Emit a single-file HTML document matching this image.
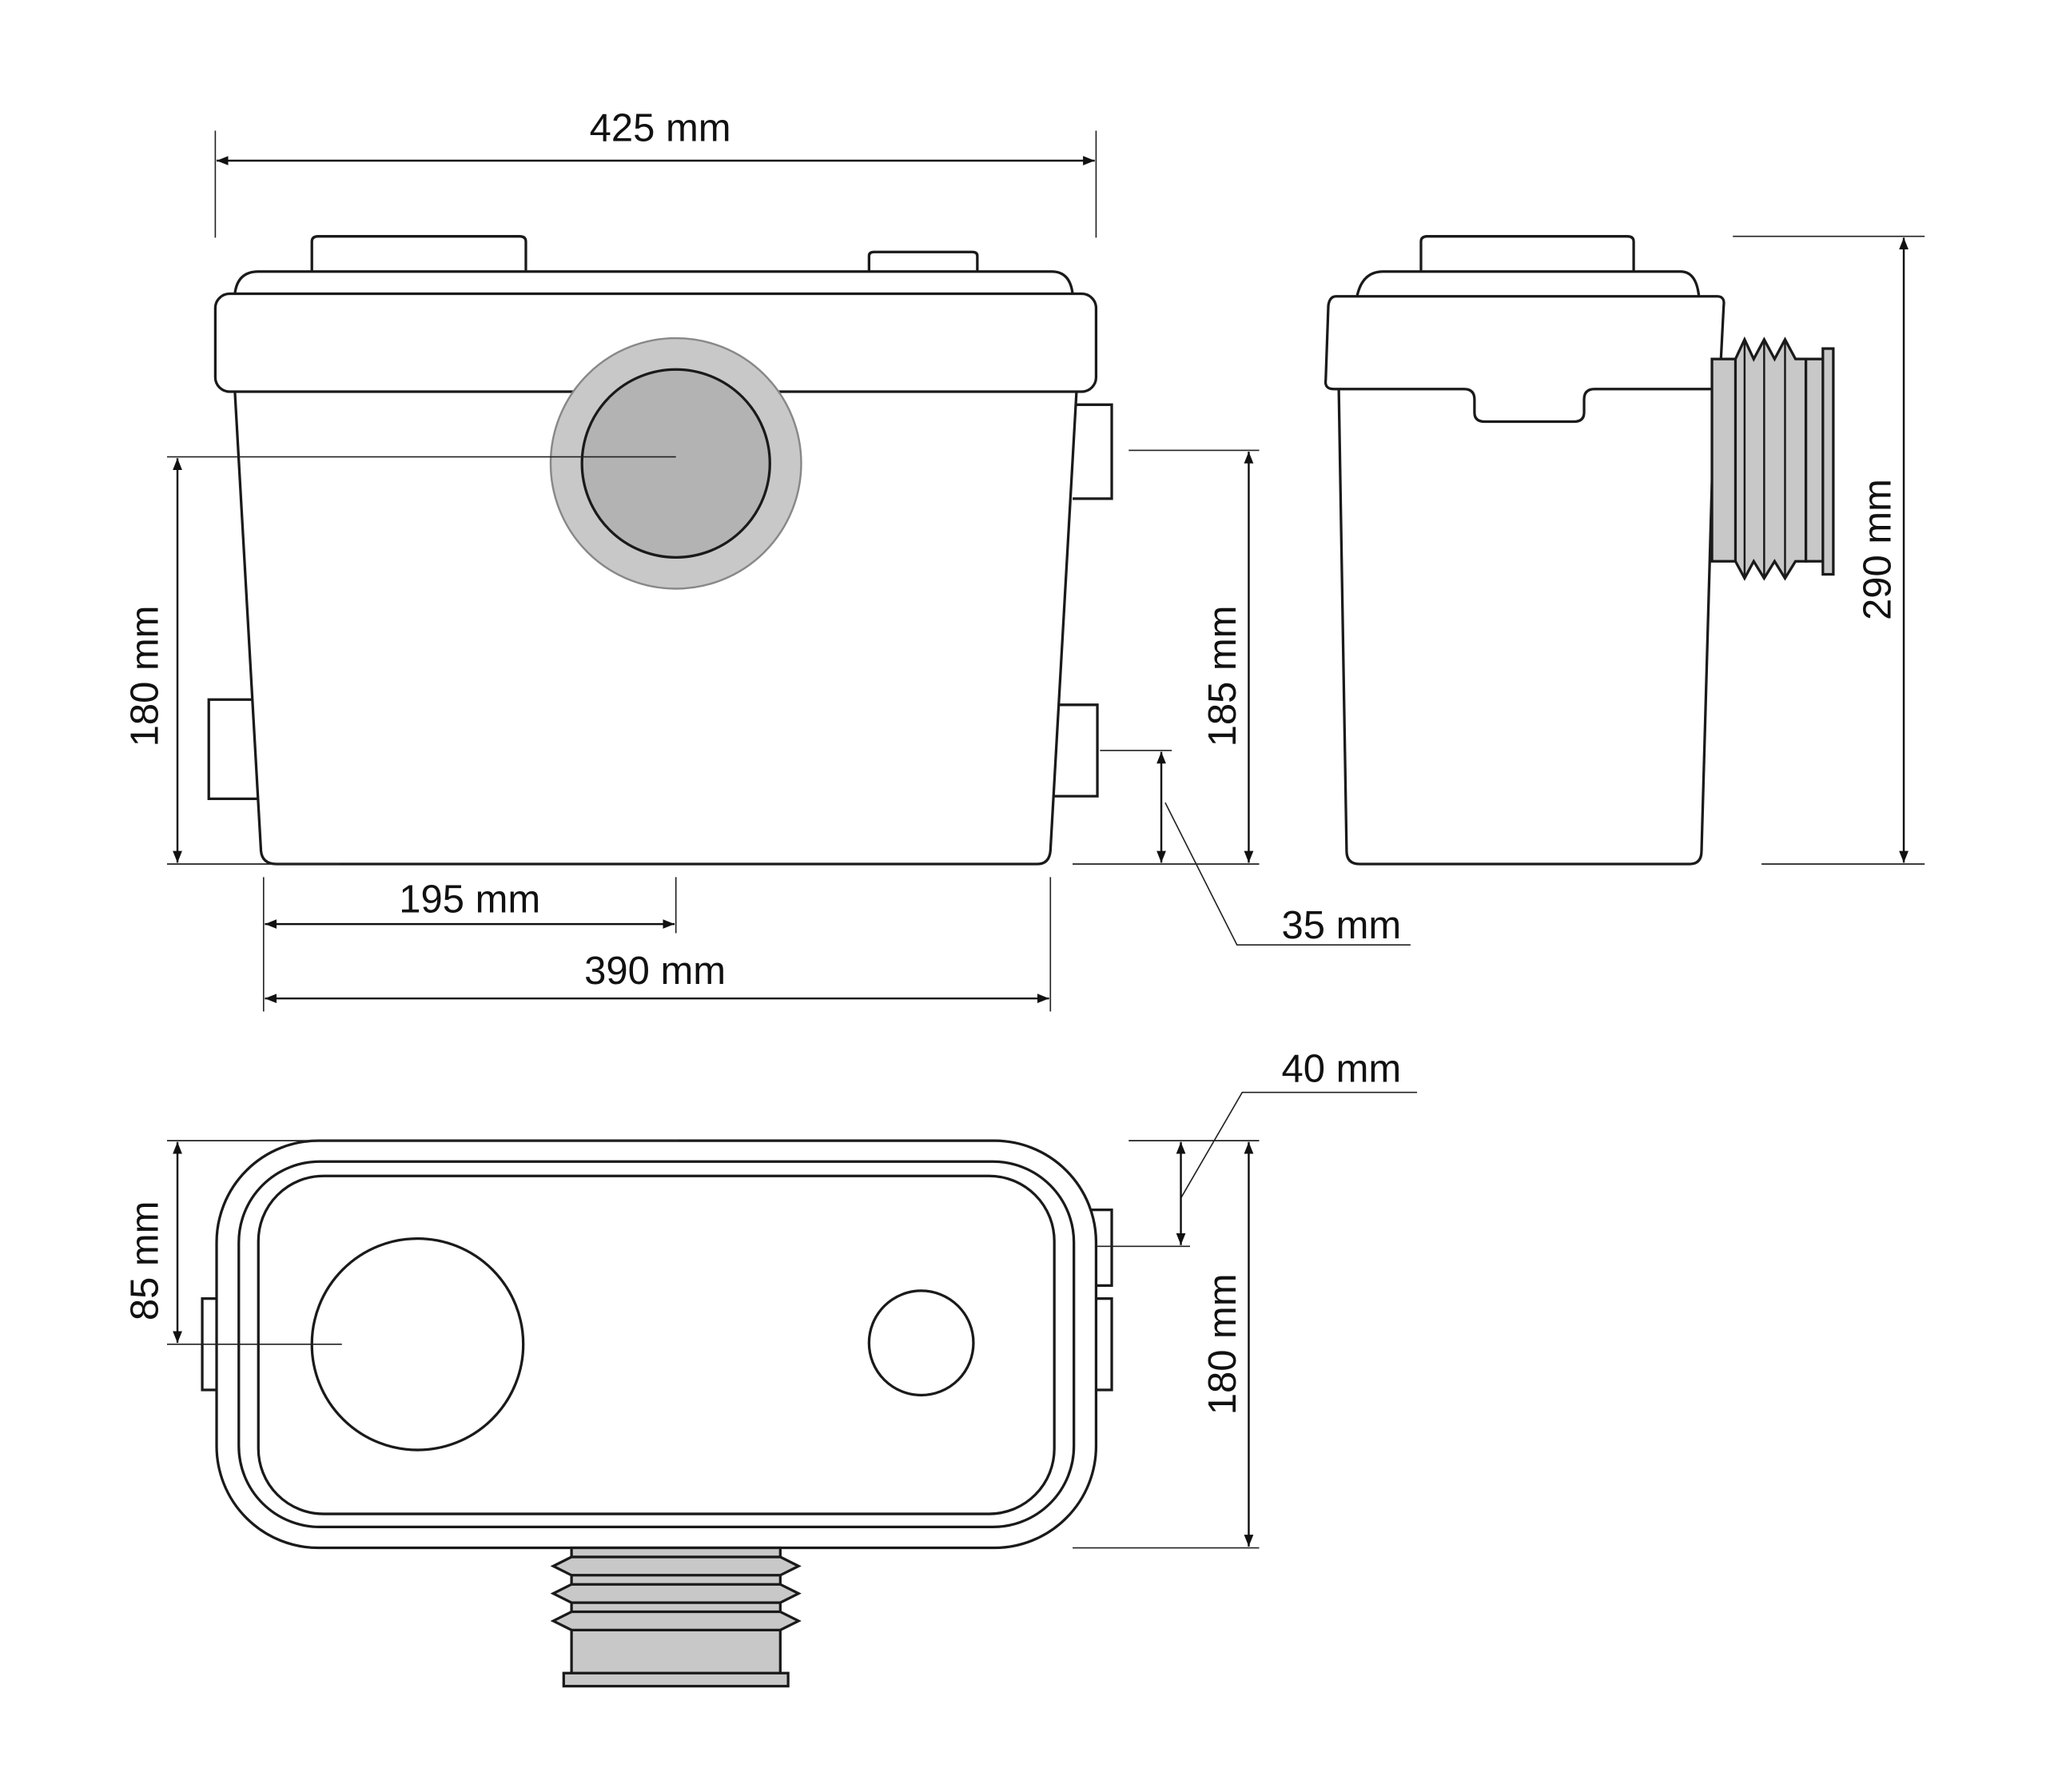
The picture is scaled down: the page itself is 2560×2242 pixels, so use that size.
<!DOCTYPE html>
<html><head><meta charset="utf-8"><style>html,body{margin:0;padding:0;background:#fff}svg{display:block}</style></head><body>
<svg width="2560" height="2242" viewBox="0 0 1568 1373" xmlns="http://www.w3.org/2000/svg" font-family="Liberation Sans, sans-serif" font-size="30" fill="none">
<defs>
<marker id="a" viewBox="0 0 10 10" refX="10" refY="5" markerWidth="9" markerHeight="9" orient="auto-start-reverse" markerUnits="userSpaceOnUse"><path d="M0,1 L10,5 L0,9 Z" fill="#111"/></marker>
</defs>
<g stroke="#1a1a1a" stroke-width="2" fill="#fff">
<path d="M239,208 V185 Q239,181 244,181 H398 Q403,181 403,185 V208"/>
<path d="M666,208 V196 Q666,193 670,193 H745 Q749,193 749,196 V208"/>
<path d="M180,225 Q182,208 198,208 H806 Q820,208 822,225"/>
<path d="M822,310 H852 V382 H822"/>
<path d="M808,540 H841 V610 H808"/>
<path d="M198,536 H160 V612 H198"/>
<path d="M180,300 L200,652 Q201,662 212,662 H795 Q804,662 805,652 L825,300"/>
<rect x="165" y="225" width="675" height="75" rx="11"/>
<circle cx="518" cy="355" r="96" fill="#c8c8c8" stroke="#888" stroke-width="1.5"/>
<circle cx="518" cy="355" r="72" fill="#b3b3b3"/>
<path d="M1089,208 V185 Q1089,181 1094,181 H1247 Q1252,181 1252,185 V208"/>
<path d="M1040,227 Q1044,208 1060,208 H1288 Q1300,208 1302,227"/>
<path d="M1026,298 L1032,652 Q1032,662 1042,662 H1295 Q1304,662 1304,652 L1314,298"/>
<path d="M1024,227 H1316 Q1322,227 1321,234 L1318,292 Q1318,298 1311,298 H1222 Q1214,298 1214,306 V316 Q1214,323 1206,323 H1138 Q1130,323 1130,316 V306 Q1130,298 1122,298 H1022 Q1015,298 1016,291 L1018,234 Q1019,227 1024,227 Z"/>
<rect x="1312" y="275" width="20" height="155" fill="#c8c8c8"/>
<path d="M1330,275 L1337,260 L1344,275 L1352,260 L1360,275 L1368,260 L1376,275 L1384,275 V430 H1376 L1368,443 L1360,430 L1352,443 L1344,430 L1337,443 L1330,430 Z" fill="#c8c8c8"/>
<path d="M1337,260 V443 M1352,260 V443 M1368,260 V443" stroke-width="1.5"/>
<rect x="1384" y="275" width="14" height="155" fill="#c8c8c8"/>
<rect x="1397" y="267" width="8" height="173" fill="#c8c8c8"/>
<rect x="155" y="995" width="12" height="70"/>
<rect x="835" y="927" width="17" height="58"/>
<rect x="835" y="995" width="17" height="70"/>
<rect x="166" y="874" width="674" height="312" rx="78"/>
<rect x="183" y="890" width="640" height="280" rx="62"/>
<rect x="198" y="901" width="610" height="259" rx="50"/>
<circle cx="320" cy="1030" r="81"/>
<circle cx="706" cy="1029" r="40"/>
<rect x="438" y="1186" width="160" height="100" fill="#c8c8c8"/>
<path d="M438,1193 H598 L612,1200 L598,1207 H438 L424,1200 Z" fill="#c8c8c8"/>
<path d="M438,1214 H598 L612,1221 L598,1228 H438 L424,1221 Z" fill="#c8c8c8"/>
<path d="M438,1235 H598 L612,1242 L598,1249 H438 L424,1242 Z" fill="#c8c8c8"/>
<rect x="432" y="1282" width="172" height="10" fill="#c8c8c8"/>
</g>
<g stroke="#222" stroke-width="1">
<path d="M165,100 V182 M840,100 V182"/>
<path d="M128,350 H518 M128,662 H260"/>
<path d="M865,345 H965 M822,662 H965 M843,575 H898"/>
<path d="M893,615 L948,724 H1081"/>
<path d="M202,672 V775 M518,672 V715 M805,672 V775"/>
<path d="M1328,181 H1475 M1350,662 H1475"/>
<path d="M128,874 H520 M128,1030 H262"/>
<path d="M865,874 H965 M822,1186 H965 M840,955 H912"/>
<path d="M905,918 L952,837 H1086"/>
</g>
<g stroke="#111" stroke-width="1.5" marker-start="url(#a)" marker-end="url(#a)">
<line x1="166" y1="123" x2="839" y2="123"/>
<line x1="136" y1="351" x2="136" y2="661"/>
<line x1="957" y1="346" x2="957" y2="661"/>
<line x1="890" y1="576" x2="890" y2="661"/>
<line x1="203" y1="708" x2="517" y2="708"/>
<line x1="203" y1="765" x2="804" y2="765"/>
<line x1="1459" y1="182" x2="1459" y2="661"/>
<line x1="136" y1="875" x2="136" y2="1029"/>
<line x1="957" y1="875" x2="957" y2="1185"/>
<line x1="905" y1="875" x2="905" y2="954"/>
</g>
<g fill="#111" text-anchor="middle">
<text x="506" y="108">425 mm</text>
<text x="360" y="699">195 mm</text>
<text x="502" y="754">390 mm</text>
<text x="1028" y="719">35 mm</text>
<text x="1028" y="829">40 mm</text>
<text transform="translate(121,518) rotate(-90)">180 mm</text>
<text transform="translate(947,518) rotate(-90)">185 mm</text>
<text transform="translate(1449,421) rotate(-90)">290 mm</text>
<text transform="translate(121,966) rotate(-90)">85 mm</text>
<text transform="translate(947,1030) rotate(-90)">180 mm</text>
</g>
</svg>
</body></html>
